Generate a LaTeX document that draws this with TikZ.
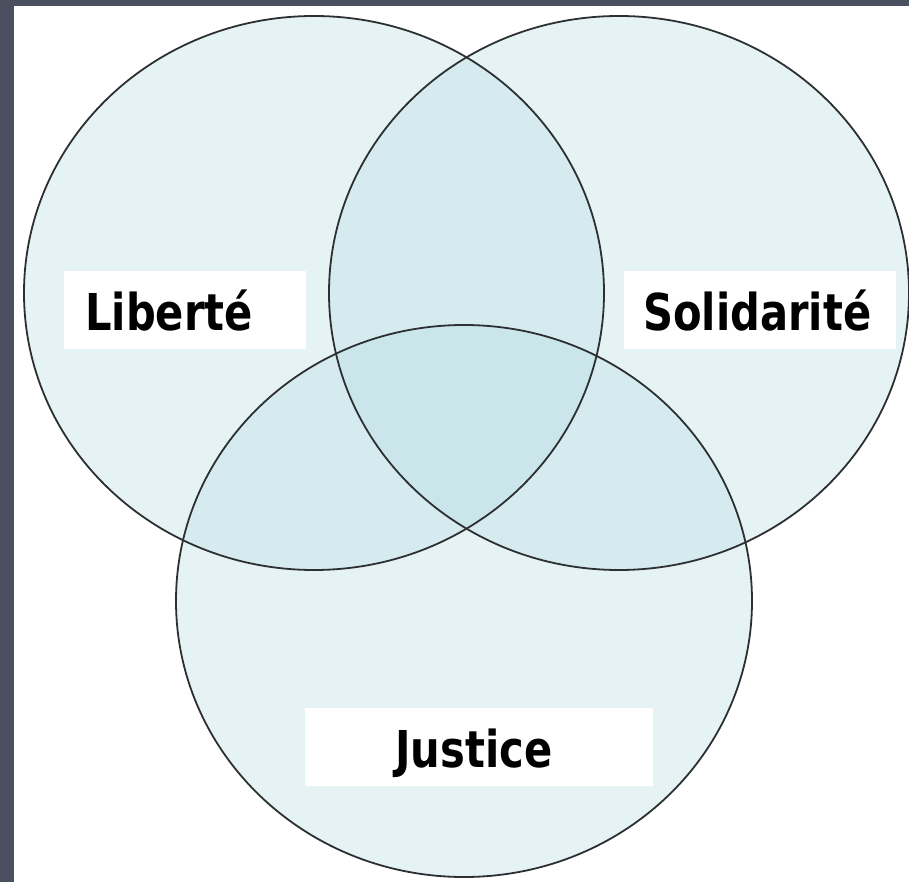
\documentclass[tikz,border=0pt]{standalone}
\usepackage{fontspec}
\newfontfamily\tagfont{DejaVu Sans}[FakeStretch=0.82]
\definecolor{frame}{RGB}{74,80,96}
\definecolor{ring}{RGB}{184,222,228}
\definecolor{rim}{RGB}{45,48,50}
\begin{document}
\begin{tikzpicture}[x=1pt,y=-1pt,
    tag/.style={fill=white,anchor=north west,inner ysep=0pt,align=left,
      text height=59pt,text depth=19pt,font=\tagfont\bfseries\fontsize{50.8}{60}\selectfont},
    set/.style={ring,fill opacity=0.35}]
        \useasboundingbox (0,0) rectangle (909,882);
        \clip (0,0) rectangle (909,882);
        \fill[white] (0,0) rectangle (909,882);
        \fill[frame] (0,0) rectangle (14,882);
        \fill[frame] (0,0) rectangle (909,6);
        \fill[set] (314,293) ellipse [x radius=290,y radius=277];
        \fill[set] (619,293) ellipse [x radius=290,y radius=277];
        \fill[set] (464,601) ellipse [x radius=288,y radius=276];
        \draw[rim,line width=1.8] (314,293) ellipse [x radius=290,y radius=277];
        \draw[rim,line width=1.8] (619,293) ellipse [x radius=290,y radius=277];
        \draw[rim,line width=1.8] (464,601) ellipse [x radius=288,y radius=276];
        \node[tag,inner xsep=21pt,text width=200pt] (liberte) at (64,271) {Liberté};
        \node[tag,inner xsep=19pt,text width=234pt] (solidarite) at (624,271) {Solidarité};
        \node[tag,inner xsep=90pt,text width=168pt] (justice) at (305,708) {Justice};
      \end{tikzpicture}
\end{document}
